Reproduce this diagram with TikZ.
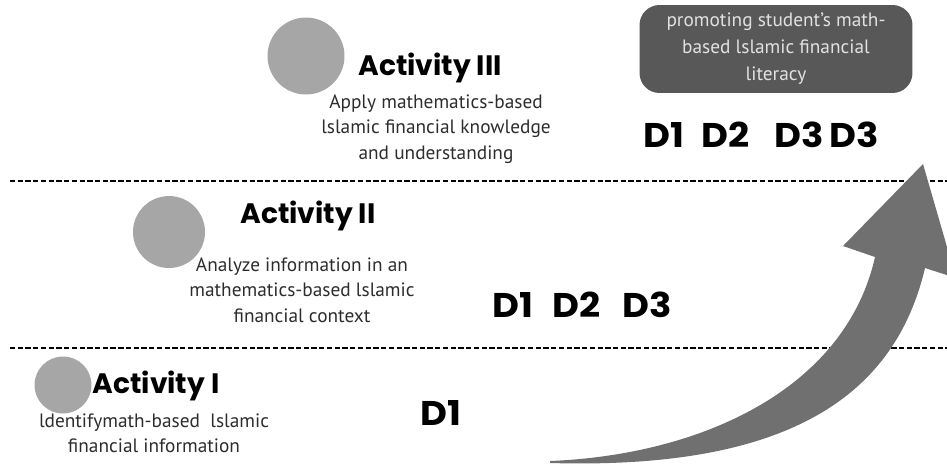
\documentclass[tikz,border=0pt]{standalone}
\usepackage{fontspec}
\usepackage{xcolor}
\usepackage{tikz}
\setmainfont{PT Sans}
\newfontfamily\titlefont{Poppins}[UprightFont=* Bold]
\newfontfamily\dimfont{Poppins}[UprightFont=* Bold, FakeStretch=1.08]
\definecolor{dotgray}{RGB}{166, 166, 166}
\definecolor{arrowgray}{RGB}{112, 112, 112}
\definecolor{boxgray}{RGB}{88, 88, 88}
\definecolor{boxtext}{RGB}{225, 225, 225}
\definecolor{bodytext}{RGB}{45, 45, 45}
\usetikzlibrary{positioning, calc}

\begin{document}
\begin{tikzpicture}[
        x=0.02cm, y=0.02cm,
        dot/.style={circle, fill=dotgray, inner sep=0pt},
        acttitle/.style={anchor=base, font=\titlefont\fontsize{16}{18}\selectfont},
        actdesc/.style={anchor=north, align=center, inner sep=0pt, text=bodytext, font=\fontsize{11}{14.5}\selectfont},
        dlabel/.style={anchor=base, font=\dimfont\fontsize{19.5}{22}\selectfont},
        goalbox/.style={rectangle, rounded corners=0.4cm, fill=boxgray, text=boxtext, align=center, minimum width=5.46cm, minimum height=1.76cm, font=\fontsize{11}{15.3}\selectfont},
        levelline/.style={dashed, dash pattern=on 3pt off 1.4pt, line width=0.8pt}
    ]
        \useasboundingbox (0,0) rectangle (947,-468);

        % Level separators
        \coordinate (l1a) at (10,-181);
        \coordinate (l1b) at (947,-181);
        \coordinate (l2a) at (10,-348);
        \coordinate (l2b) at (947,-348);
        \draw[levelline] (l1a) -- (l1b);
        \draw[levelline] (l2a) -- (l2b);

        % Growth arrow
        \begin{scope}
            \clip (0,0) rectangle (947,-468);
            \fill[arrowgray] (550,-461) .. controls (700,-455) and (845,-390) .. (875,-257)
                -- (843,-246) -- (923,-164) -- (956,-278) -- (925,-268)
                .. controls (895,-395) and (790,-470) .. (550,-463) -- cycle;
        \end{scope}

        % Activity III
        \node[dot, minimum size=1.54cm] (c3) at (306,-56) {};
        \node[acttitle] (t3) at (430,-75) {Activity III};
        \node[actdesc] (d3) at (436,-94) {Apply mathematics-based\\lslamic financial knowledge\\and understanding};

        % Activity II
        \node[dot, minimum size=1.44cm] (c2) at (169,-232) {};
        \node[acttitle] (t2) at (308,-223) {Activity II};
        \node[actdesc] (d2) at (302,-257) {Analyze information in an\\mathematics-based lslamic\\financial context};

        % Activity I
        \node[dot, minimum size=1.14cm] (c1) at (63,-385) {};
        \node[acttitle] (t1) at (156,-393) {Activity I};
        \node[actdesc] (d1) at (154,-413) {ldentifymath-based\ \ lslamic\\financial information};

        % Dimensions
        \node[dlabel] (dim1) at (441,-425) {D1};
        \node[dlabel] (dim2) at (582,-317) {D1\hspace{11pt}D2\hspace{12.5pt}D3};
        \node[dlabel] (dim3) at (761,-147) {D1\hspace{10pt}D2\hspace{14pt}D3\hspace{3.5pt}D3};

        % Goal
        \node[goalbox] (goal) at (776,-49) {promoting student's math-\\based lslamic financial\\literacy};
    \end{tikzpicture}
\end{document}
